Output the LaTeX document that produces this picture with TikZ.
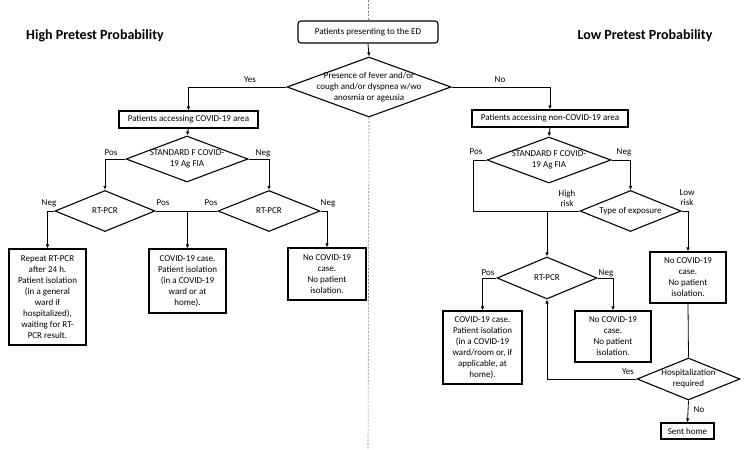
\documentclass[tikz,border=0pt]{standalone}
\usepackage{fontspec}
\setmainfont{Carlito}
\usetikzlibrary{shapes.geometric,arrows.meta}
\tikzset{
  box/.style={draw, line width=1.1pt, inner sep=1pt, align=center, font=\fontsize{9}{11}\selectfont},
  dia/.style={draw, shape=diamond, line width=1.1pt, inner sep=0pt},
  dtext/.style={align=center, font=\fontsize{9}{11}\selectfont},
  conn/.style={line width=0.8pt},
  arr/.style={line width=0.8pt, -{Latex[length=4pt,width=3.5pt]}},
  lbl/.style={font=\fontsize{9}{10}\selectfont, align=center, inner sep=0pt},
  ttl/.style={font=\fontsize{14}{16}\selectfont\bfseries},
  divider/.style={draw=gray, line width=0.6pt, dash pattern=on 2pt off 1.5pt}
}
\begin{document}
\begin{tikzpicture}[x=1pt,y=-1pt]
\useasboundingbox (0,0) rectangle (748,450);

% titles
\node[ttl] (tl) at (95,36) {High Pretest Probability};
\node[ttl] (tr) at (645,36) {Low Pretest Probability};

% top
\node[box, rounded corners=3pt, minimum width=140pt, minimum height=22pt] (top) at (368,32) {Patients presenting to the ED};
\node[dia, minimum width=164pt, minimum height=60pt] (d1) at (369,87) {};
\node[dtext] (d1t) at (369,87) {Presence of fever and/or\\cough and/or dyspnea w/wo\\anosmia or ageusia};

% divider
\coordinate (dvtop) at (368,0);
\coordinate (dvbot) at (368,450);
\draw[divider] (dvtop) -- (top.north);
\draw[divider] (d1.south) -- (dvbot);

% second level boxes
\node[box, minimum width=139pt, minimum height=17pt] (cov) at (188.5,119.5) {Patients accessing COVID-19 area};
\node[box, minimum width=156pt, minimum height=17pt] (ncov) at (550,118.5) {Patients accessing non-COVID-19 area};

% left side
\node[dia, minimum width=122pt, minimum height=46pt] (agL) at (187,159) {};
\node[dtext] at (187,159) {STANDARD F COVID-\\19 Ag FIA};
\node[dia, minimum width=100pt, minimum height=41pt] (rtL) at (105,211) {};
\node[dtext] at (105,211) {RT-PCR};
\node[dia, minimum width=102pt, minimum height=41pt] (rtR) at (269,211) {};
\node[dtext] at (269,211) {RT-PCR};
\node[box, minimum width=77pt, minimum height=96pt] (lb) at (47.5,297) {Repeat RT-PCR\\after 24 h.\\Patient isolation\\(in a general\\ward if\\hospitalized),\\waiting for RT-\\PCR result.};
\node[box, minimum width=77pt, minimum height=64pt] (mb) at (187.5,281) {COVID-19 case.\\Patient isolation\\(in a COVID-19\\ward or at\\home).};
\node[box, minimum width=78pt, minimum height=52pt] (rb) at (327,274) {No COVID-19\\case.\\No patient\\isolation.};

% right side
\node[dia, minimum width=124pt, minimum height=46pt] (agR) at (549,160) {};
\node[dtext] at (549,160) {STANDARD F COVID-\\19 Ag FIA};
\node[dia, minimum width=101pt, minimum height=41pt] (type) at (630.5,211) {};
\node[dtext] at (630.5,211) {Type of exposure};
\node[box, minimum width=76pt, minimum height=51pt] (lowb) at (688,277.5) {No COVID-19\\case.\\No patient\\isolation.};
\node[dia, minimum width=100pt, minimum height=42pt] (rtLow) at (547,278) {};
\node[dtext] at (547,278) {RT-PCR};
\node[box, minimum width=79pt, minimum height=73pt] (covR) at (482.5,347.5) {COVID-19 case.\\Patient isolation\\(in a COVID-19\\ward/room or, if\\applicable, at\\home).};
\node[box, minimum width=76pt, minimum height=51pt] (ncR) at (613,336.5) {No COVID-19\\case.\\No patient\\isolation.};
\node[dia, minimum width=103pt, minimum height=42pt] (hosp) at (688.5,379) {};
\node[dtext] at (688.5,379) {Hospitalization\\required};
\node[box, minimum width=53pt, minimum height=16pt] (sent) at (687.5,431) {Sent home};

% connectors top
\draw[arr] (top.south) -- (d1.north);
\draw[arr] (d1.west) -| (cov.north);
\draw[arr] (d1.east) -| (ncov.north);
\node[lbl] at (250,80) {Yes};
\node[lbl] at (500,80) {No};

% left connectors
\draw[arr] (cov.south) -- (agL.north);
\draw[arr] (agL.west) -| (rtL.north);
\draw[arr] (agL.east) -| (rtR.north);
\node[lbl] at (111,153) {Pos};
\node[lbl] at (263,153) {Neg};
\draw[arr] (rtL.west) -| (lb.north);
\draw[conn] (rtL.east) -- (rtR.west);
\coordinate (mj) at (mb.north |- rtL.east);
\draw[arr] (mj) -- (mb.north);
\draw[arr] (rtR.east) -| (rb.north);
\node[lbl] at (49,203) {Neg};
\node[lbl] at (163,203) {Pos};
\node[lbl] at (211,203) {Pos};
\node[lbl] at (328,203) {Neg};

% right connectors
\draw[arr] (ncov.south) -- (agR.north);
\coordinate (posR) at (473,160);
\draw[conn] (agR.west) -- (posR) |- (type.west);
\coordinate (hj) at (rtLow.north |- type.west);
\draw[arr] (hj) -- (rtLow.north);
\draw[arr] (agR.east) -| (type.north);
\draw[arr] (type.east) -| (lowb.north);
\node[lbl] at (476,152) {Pos};
\node[lbl] at (624,152) {Neg};
\node[lbl] at (567,198) {High\\risk};
\node[lbl] at (687,198) {Low\\risk};
\draw[arr] (rtLow.west) -| (covR.north);
\draw[arr] (rtLow.east) -| (ncR.north);
\node[lbl] at (488,273) {Pos};
\node[lbl] at (606,273) {Neg};
\draw[conn] (lowb.south) -- (hosp.north);
\draw[arr] (hosp.west) -| (rtLow.south);
\draw[arr] (hosp.south) -- (sent.north);
\node[lbl] at (628,372) {Yes};
\node[lbl] at (699,410) {No};
\end{tikzpicture}
\end{document}
